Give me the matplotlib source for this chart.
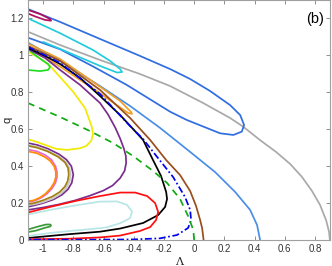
import matplotlib
matplotlib.use("Agg")
import matplotlib.pyplot as plt

plt.rcParams['font.family'] = ['Liberation Sans', 'DejaVu Sans']

# ---- data (Lambda, q) ----
blue_loop_x = [-1.1, -0.887, -0.623, -0.358, -0.159, -0.026, 0.106, 0.238, 0.305, 0.331,
               0.316, 0.260, 0.172, 0.062, -0.048, -0.159, -0.446, -0.667, -0.887, -1.1]
blue_loop_q = [1.251, 1.181, 1.089, 0.997, 0.926, 0.872, 0.807, 0.731, 0.677, 0.623,
               0.587, 0.569, 0.578, 0.614, 0.650, 0.695, 0.840, 0.939, 1.033, 1.096]

cornflower_x = [-1.1, -0.887, -0.623, -0.424, -0.225, -0.026, 0.139, 0.272, 0.371, 0.417, 0.437]
cornflower_q = [1.069, 0.970, 0.834, 0.726, 0.607, 0.477, 0.368, 0.260, 0.163, 0.081, 0.0]

gray_x = [-1.1, -0.887, -0.623, -0.358, -0.159, 0.060, 0.238, 0.325, 0.437, 0.543, 0.636,
          0.715, 0.781, 0.834, 0.874, 0.894, 0.899]
gray_q = [1.128, 1.056, 0.975, 0.899, 0.834, 0.742, 0.661, 0.614, 0.541, 0.477, 0.412,
          0.341, 0.265, 0.190, 0.108, 0.043, 0.0]

cyan_x = [-1.1, -0.887, -0.669, -0.556, -0.490, -0.477, -0.510, -0.623, -0.755, -0.887, -1.0]
cyan_q = [1.201, 1.120, 1.029, 0.970, 0.926, 0.910, 0.907, 0.943, 0.989, 1.035, 1.073]

maroon_x = [-1.1, -1.020, -0.954, -0.947, -0.987, -1.053, -1.1]
maroon_q = [1.246, 1.224, 1.197, 1.188, 1.192, 1.211, 1.227]

green_x = [-1.1, -1.053, -1.007, -0.967, -0.954, -0.967, -1.020, -1.1]
green_q = [1.035, 1.002, 0.975, 0.953, 0.937, 0.921, 0.915, 0.921]

yellow_x = [-1.1, -1.020, -0.954, -0.887, -0.801, -0.722, -0.678, -0.669, -0.682, -0.715,
            -0.755, -0.841, -0.914, -0.980, -1.040, -1.1]
yellow_q = [1.020, 0.984, 0.943, 0.882, 0.803, 0.714, 0.614, 0.574, 0.536, 0.509,
            0.497, 0.488, 0.494, 0.513, 0.531, 0.546]

gdash_x = [-1.1, -0.887, -0.689, -0.536, -0.404, -0.272, -0.179, -0.093, -0.040, -0.005, 0.0]
gdash_q = [0.742, 0.666, 0.590, 0.525, 0.455, 0.374, 0.309, 0.222, 0.130, 0.054, 0.0]

black_x = [-1.1, -0.987, -0.887, -0.755, -0.623, -0.490, -0.404, -0.338, -0.272, -0.219,
           -0.185, -0.179, -0.192, -0.238, -0.338, -0.490, -0.623, -0.821, -0.954, -1.1]
black_q = [1.040, 0.997, 0.953, 0.878, 0.780, 0.677, 0.601, 0.542, 0.433, 0.347,
           0.260, 0.222, 0.179, 0.135, 0.092, 0.062, 0.045, 0.032, 0.022, 0.011]

bdash_x = [-1.1, -0.887, -0.623, -0.424, -0.338, -0.245, -0.139, -0.060, -0.026, -0.020,
           -0.040, -0.113, -0.225, -0.404, -0.623, -0.887, -1.1]
bdash_q = [1.046, 0.959, 0.791, 0.617, 0.547, 0.450, 0.341, 0.233, 0.163, 0.108,
           0.065, 0.027, 0.009, 0.003, 0.002, 0.002, 0.002]

brown_x = [-1.1, -0.887, -0.623, -0.424, -0.291, -0.185, -0.093, -0.026, 0.013, 0.040, 0.053, 0.063]
brown_q = [1.051, 0.970, 0.813, 0.661, 0.542, 0.433, 0.352, 0.265, 0.184, 0.108, 0.065, 0.0]

orange_x = [-1.1, -0.887, -0.623, -0.490, -0.417, -0.411, -0.437, -0.523, -0.623, -0.755, -0.887, -1.1]
orange_q = [1.064, 0.980, 0.830, 0.753, 0.693, 0.683, 0.688, 0.737, 0.795, 0.867, 0.939, 1.045]

purple_x = [-1.1, -0.987, -0.887, -0.755, -0.689, -0.623, -0.570, -0.523, -0.490, -0.465, -0.452,
            -0.450, -0.460, -0.490, -0.540, -0.600, -0.690, -0.790, -0.900, -1.0, -1.1]
purple_q = [1.035, 0.986, 0.921, 0.840, 0.791, 0.742, 0.680, 0.610, 0.550, 0.495, 0.455,
            0.417, 0.375, 0.335, 0.295, 0.268, 0.240, 0.214, 0.192, 0.176, 0.163]

red_x = [-1.1, -0.954, -0.788, -0.623, -0.490, -0.391, -0.311, -0.258, -0.238, -0.252,
         -0.291, -0.358, -0.490, -0.623, -0.821, -1.1]
red_q = [0.149, 0.179, 0.211, 0.238, 0.257, 0.257, 0.238, 0.200, 0.152, 0.108,
         0.070, 0.049, 0.024, 0.014, 0.007, 0.004]

pale_x = [-1.1, -0.954, -0.788, -0.623, -0.510, -0.444, -0.411, -0.424, -0.490, -0.576,
          -0.623, -0.821, -0.954, -1.1]
pale_q = [0.138, 0.163, 0.187, 0.208, 0.209, 0.190, 0.154, 0.118, 0.091, 0.069,
          0.064, 0.049, 0.038, 0.022]

dgreen_x = [-1.1, -1.033, -0.980, -0.954, -0.947, -0.954, -0.993, -1.046, -1.1]
dgreen_q = [0.057, 0.073, 0.084, 0.084, 0.079, 0.073, 0.065, 0.051, 0.043]

sp_purple_x = [-1.1, -1.04, -0.97, -0.895, -0.845, -0.813, -0.80, -0.81, -0.835, -0.875,
               -0.93, -1.0, -1.06, -1.1]
sp_purple_q = [0.525, 0.515, 0.495, 0.465, 0.435, 0.40, 0.355, 0.31, 0.275, 0.245,
               0.22, 0.20, 0.187, 0.18]

sgray_x = [-1.1, -1.04, -0.97, -0.90, -0.852, -0.826, -0.817, -0.825, -0.848, -0.885,
           -0.935, -1.0, -1.06, -1.1]
sgray_q = [0.515, 0.505, 0.485, 0.455, 0.425, 0.39, 0.355, 0.315, 0.28, 0.25,
           0.225, 0.205, 0.193, 0.19]

olive_x = [-1.1, -1.04, -0.97, -0.90, -0.855, -0.835, -0.83, -0.837, -0.855, -0.89,
           -0.94, -1.0, -1.06, -1.1]
olive_q = [0.51, 0.50, 0.48, 0.45, 0.42, 0.39, 0.355, 0.32, 0.29, 0.26,
           0.235, 0.215, 0.20, 0.195]

pink_x = [-1.1, -1.04, -0.985, -0.945, -0.918, -0.908, -0.908, -0.918, -0.94, -0.975,
          -1.01, -1.055, -1.1]
pink_q = [0.49, 0.48, 0.46, 0.435, 0.40, 0.37, 0.34, 0.31, 0.28, 0.25,
          0.23, 0.213, 0.205]

sorange_x = [-1.1, -1.04, -0.99, -0.955, -0.927, -0.916, -0.916, -0.927, -0.95, -0.985,
             -1.02, -1.06, -1.1]
sorange_q = [0.48, 0.47, 0.45, 0.43, 0.40, 0.37, 0.34, 0.31, 0.28, 0.25,
             0.23, 0.215, 0.21]

x_ticks = [-1, -0.8, -0.6, -0.4, -0.2, 0, 0.2, 0.4, 0.6, 0.8]
x_labels = ['-1', '-0.8', '-0.6', '-0.4', '-0.2', '0', '0.2', '0.4', '0.6', '0.8']
y_ticks = [0, 0.2, 0.4, 0.6, 0.8, 1, 1.2]
y_labels = ['0', '0.2', '0.4', '0.6', '0.8', '1', '1.2']

fig = plt.figure(figsize=(3.32, 2.66), dpi=100)
ax = fig.add_axes([28/332, 26/266, 302/332, 240/266])

lw = 1.25
kw = dict(lw=lw, solid_joinstyle='round', solid_capstyle='round')
ax.plot(gray_x, gray_q, color='#a9a9a9', **kw)
ax.plot(blue_loop_x, blue_loop_q, color='#2f6de0', **kw)
ax.plot(cornflower_x, cornflower_q, color='#4a8ee8', **kw)
ax.plot(cyan_x, cyan_q, color='#22ccdd', **kw)
ax.plot(maroon_x, maroon_q, color='#b01060', **kw)
ax.plot(yellow_x, yellow_q, color='#f2ea00', **kw)
ax.plot(green_x, green_q, color='#22dd22', **kw)
ax.plot(orange_x, orange_q, color='#f0a028', **kw)
ax.plot(purple_x, purple_q, color='#7b2d8e', **kw)
ax.plot(brown_x, brown_q, color='#9a4e1c', **kw)
ax.plot(black_x, black_q, color='black', **kw)
ax.plot(pale_x, pale_q, color='#b8e6e6', **kw)
ax.plot(red_x, red_q, color='#ff1010', **kw)
ax.plot(dgreen_x, dgreen_q, color='#3a9a3a', **kw)
ax.plot(sp_purple_x, sp_purple_q, color='#7b2d8e', **kw)
ax.plot(sgray_x, sgray_q, color='#c8c8c8', **kw)
ax.plot(olive_x, olive_q, color='#a08010', **kw)
ax.plot(pink_x, pink_q, color='#e86ad0', **kw)
ax.plot(sorange_x, sorange_q, color='#ff8c00', **kw)
ax.plot(bdash_x, bdash_q, color='#0000ee', lw=lw, ls=(0, (4, 1.5, 1, 1.5)))
ax.plot(gdash_x, gdash_q, color='#11aa11', lw=lw, ls=(0, (4, 3)))

ax.set_xlim(-1.1, 0.9)
ax.set_ylim(0, 1.3)
ax.set_xticks(x_ticks)
ax.set_xticklabels(x_labels)
ax.set_yticks(y_ticks)
ax.set_yticklabels(y_labels)
ax.tick_params(direction='in', top=True, right=True, length=3, width=0.6,
               colors='#333333', labelsize=7, pad=3)
for s in ax.spines.values():
    s.set_color('#a0a0a0')
    s.set_linewidth(0.8)
ax.tick_params(axis='both', color='#808080')

ax.set_xlabel('Λ', fontsize=8, color='#222222', labelpad=2, family=['DejaVu Serif'])
ax.set_ylabel('q', fontsize=8, color='#222222')
ax.yaxis.set_label_coords(-0.052, 0.5)
ax.text(0.80, 1.195, '(b)', fontsize=10.5, ha='center', va='center', color='black')

fig.savefig('out.png', dpi=100)
